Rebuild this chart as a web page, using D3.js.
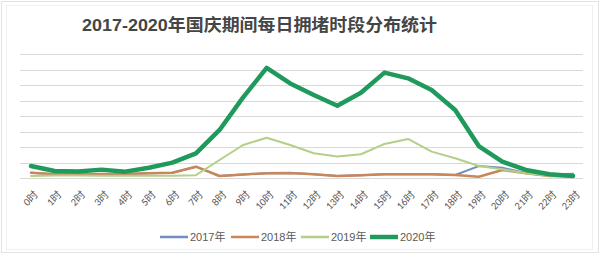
<!DOCTYPE html>
<html><head><meta charset="utf-8">
<script src="https://d3js.org/d3.v7.min.js"></script>
<style>body{margin:0;background:#fff}svg{display:block}</style>
</head><body><svg id="c" width="600" height="257"></svg>
<script>
const hours = ["0时","1时","2时","3时","4时","5时","6时","7时","8时","9时","10时","11时","12时","13时","14时","15时","16时","17时","18时","19时","20时","21时","22时","23时"];
const seriesNames = ["2017年","2018年","2019年","2020年"];
const v2017 = [3.4,2.4,2.4,2.6,2.6,3.0,3.4,7.3,1.3,2.3,3.0,3.2,2.4,1.3,1.7,2.4,2.4,2.4,1.9,7.7,6.6,3.2,2.2,2.8];
const v2018 = [3.4,2.4,2.4,2.6,2.6,3.0,3.4,7.3,1.3,2.3,3.0,3.2,2.4,1.3,1.7,2.4,2.4,2.4,1.9,0.8,5.2,3.0,1.3,1.2];
const v2019 = [1.3,1.6,1.6,1.5,1.5,1.5,1.4,1.8,11.6,21.3,26,21.3,16,13.8,15.3,22,25.2,17,12.7,7.7,5.6,3.0,1.5,1.3];
const v2020 = [7.7,4.5,4.2,5.4,4.1,6.6,9.9,15.9,31,52,71,61,53.5,46.6,55,68,64.3,56.8,43.9,20.6,10.5,5.2,2.4,1.3];
const gridTicks = [0,10,20,30,40,50,60,70,80];
const colors = ["#6f8fc0","#c8875a","#b3cf88","#1f9a5c"];
const widths = [2,2.5,2,4.5];
const data = [v2017,v2018,v2019,v2020];

const svg = d3.select("#c");
// frame
svg.append("rect").attr("x",1.5).attr("y",1.5).attr("width",597).attr("height",251).attr("fill","none").attr("stroke","#e3e3e3");
svg.append("rect").attr("x",6.5).attr("y",5.5).attr("width",586).attr("height",244).attr("fill","none").attr("stroke","#f0f0f0");

const x = d3.scalePoint().domain(hours).range([31,573]);
const y = d3.scaleLinear().domain([0,80]).range([178,54]);

// gridlines
svg.append("g").selectAll("line").data(gridTicks).join("line")
  .attr("x1",20).attr("x2",583).attr("y1",d=>Math.round(y(d))+0.5).attr("y2",d=>Math.round(y(d))+0.5)
  .attr("stroke","#d9d9d9").attr("stroke-width",1);

// x axis labels
const xa = svg.append("g").attr("transform","translate(2,190)").call(d3.axisBottom(x).tickSize(0).tickPadding(0));
xa.select(".domain").remove();
xa.selectAll("text").attr("font-family","Calibri, 'Liberation Sans', 'Noto Sans CJK SC', sans-serif")
  .attr("font-size","10.5px").attr("fill","#595959")
  .attr("text-anchor","end").attr("dy","0.7em").attr("dx","0")
  .attr("transform","rotate(-45)");

// lines
const line = d3.line().x((d,i)=>x(hours[i])).y(d=>y(d));
data.forEach((s,k)=>{
  svg.append("path").datum(s).attr("d",line).attr("fill","none")
    .attr("stroke",colors[k]).attr("stroke-width",widths[k]).attr("stroke-linejoin","round").attr("stroke-linecap","round");
});

// title
svg.append("text").attr("x",82).attr("y",31).text("2017-2020年国庆期间每日拥堵时段分布统计")
  .attr("font-family","'Liberation Sans','Noto Sans CJK SC',sans-serif").attr("font-weight","bold")
  .attr("font-size","17px").attr("fill","#454545").attr("textLength",355).attr("lengthAdjust","spacingAndGlyphs");

// legend
const legX = [160,231,301,370];
const lg = svg.append("g");
seriesNames.forEach((n,k)=>{
  lg.append("line").attr("x1",legX[k]).attr("x2",legX[k]+28).attr("y1",237).attr("y2",237)
    .attr("stroke",colors[k]).attr("stroke-width",k===3?4.5:2.5);
  lg.append("text").attr("x",legX[k]+30).attr("y",241).text(n)
    .attr("font-family","'Liberation Sans','Noto Sans CJK SC',sans-serif").attr("font-size","11px").attr("fill","#595959");
});
</script></body></html>
